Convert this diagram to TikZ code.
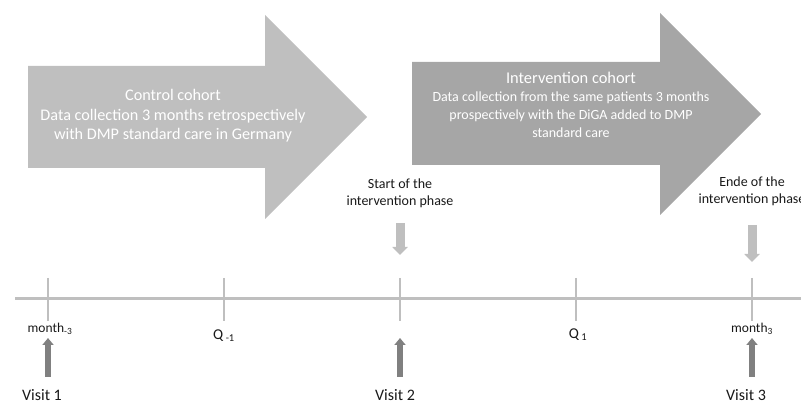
\documentclass[tikz,border=0pt]{standalone}
\usepackage{fontspec}
\setmainfont{Carlito}
\usetikzlibrary{positioning, arrows.meta, calc}
\definecolor{ctrlgray}{RGB}{191,191,191}
\definecolor{intgray}{RGB}{166,166,166}
\definecolor{visitgray}{RGB}{128,128,128}
\definecolor{textblack}{RGB}{25,25,25}

\begin{document}
\begin{tikzpicture}[x=1pt, y=-1pt,
  cohorttext/.style={align=center, text=white, inner sep=0pt},
  phaselabel/.style={align=center, text=textblack, inner sep=0pt, font=\fontsize{14}{17}\selectfont},
  ticklabel/.style={text=textblack, inner sep=0pt},
  visitlabel/.style={text=textblack, inner sep=0pt, font=\fontsize{16}{18}\selectfont},
  timeline/.style={ctrlgray, line width=3pt},
  tickmark/.style={ctrlgray, line width=2pt},
  uparrow/.style={visitgray, line width=6pt, -{Triangle[width=11pt, length=7pt]}},
  downarrow/.style={ctrlgray, line width=9pt, -{Triangle[width=15pt, length=8pt]}}]
\useasboundingbox (0,0) rectangle (801,403);

% Cohort arrows
\fill[ctrlgray] (28,66) -- (265,66) -- (265,15) -- (367,117) -- (265,219) -- (265,168) -- (28,168) -- cycle;
\fill[intgray] (412,62) -- (660,62) -- (660,13) -- (761,114) -- (660,215) -- (660,165) -- (412,165) -- cycle;

\node[cohorttext, font=\fontsize{16.2}{19.5}\selectfont] (ctrl) at (173,116)
  {Control cohort\\Data collection 3 months retrospectively\\with DMP standard care in Germany};
\node[cohorttext, font=\fontsize{14}{18}\selectfont] (intv) at (571,105)
  {{\fontsize{16.4}{19}\selectfont Intervention cohort}\\Data collection from the same patients 3 months\\prospectively with the DiGA added to DMP\\standard care};

% Timeline
\coordinate (tlstart) at (15,299);
\coordinate (tlend) at (801,299);
\draw[timeline] (tlstart) -- (tlend);
\foreach \x/\n in {48/t1, 224/t2, 400/t3, 576/t4, 752/t5} {
  \coordinate (\n) at (\x,299);
  \draw[tickmark] ($(\n)+(0,-21)$) -- ($(\n)+(0,22)$);
}

% Tick labels
\node[ticklabel, font=\fontsize{13.5}{15}\selectfont] (mminus) at ($(t1)+(2,30)$) {month\textsubscript{-3}};
\node[ticklabel, font=\fontsize{15}{16}\selectfont] (qminus) at ($(t2)+(0,37)$) {Q\,\textsubscript{-1}};
\node[ticklabel, font=\fontsize{15}{16}\selectfont] (qplus) at ($(t4)+(2,36)$) {Q\,\textsubscript{1}};
\node[ticklabel, font=\fontsize{13.5}{15}\selectfont] (mplus) at ($(t5)+(0,30)$) {month\textsubscript{3}};

% Phase labels
\node[phaselabel] (start) at (400,193) {Start of the\\intervention phase};
\node[phaselabel] (ende) at (752,191) {Ende of the\\intervention phase};
\draw[downarrow] ($(t3)+(0,-76)$) -- ($(t3)+(0,-44)$);
\draw[downarrow] ($(t5)+(0,-74)$) -- ($(t5)+(0,-37)$);

% Visits
\node[visitlabel] (visit1) at ($(t1)+(-6,96)$) {Visit 1};
\node[visitlabel] (visit2) at ($(t3)+(-5,96)$) {Visit 2};
\node[visitlabel] (visit3) at ($(t5)+(-6,96)$) {Visit 3};
\draw[uparrow] ($(t1)+(0,78)$) -- ($(t1)+(0,39)$);
\draw[uparrow] ($(t3)+(0,78)$) -- ($(t3)+(0,39)$);
\draw[uparrow] ($(t5)+(0,78)$) -- ($(t5)+(0,39)$);
\end{tikzpicture}
\end{document}
